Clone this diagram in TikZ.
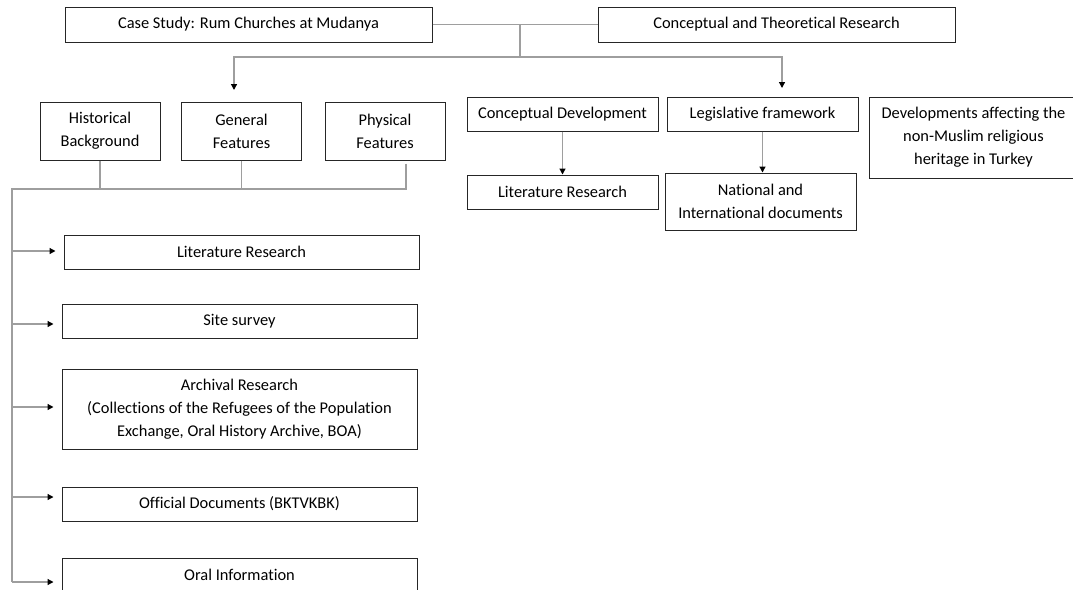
\documentclass[tikz,border=0pt]{standalone}
\usepackage{fontspec}
\setmainfont{Carlito}[Ligatures=NoCommon]
\usetikzlibrary{arrows.meta,positioning}
\tikzset{
  box/.style={draw=black!85,line width=1pt,inner sep=2pt,align=center,font=\fontsize{16.4}{23}\selectfont},
  sq/.style={minimum width=120pt,minimum height=58pt},
  wide/.style={minimum width=355pt,minimum height=34pt},
  mid/.style={minimum width=191pt,minimum height=34pt},
  wire/.style={draw=black!38,line width=1.3pt},
  pointer/.style={-{Triangle[length=6pt,width=6pt,black]}},
}
\begin{document}
\begin{tikzpicture}[x=1pt,y=-1pt]
  \useasboundingbox (0,0) rectangle (1073,589);
  % top row
  \node[box,minimum width=367pt,minimum height=35pt] (case) at (248.5,24.5) {Case Study: Rum Churches at Mudanya};
  \node[box,minimum width=357pt,minimum height=35pt] (theory) at (776.5,24.5) {Conceptual and Theoretical Research};
  % case study side
  \node[box,sq] (hist) at (100,131) {Historical\\Background};
  \node[box,sq] (gen) at (241.5,131) {General\\Features};
  \node[box,sq] (phys) at (385,131) {Physical\\Features};
  \node[box,wide] (lit) at (241.5,252) {Literature Research};
  \node[box,wide] (site) at (239.5,321) {Site survey};
  \node[box,wide,minimum height=80pt] (arch) at (239.5,409) {Archival Research\\(Collections of the Refugees of the Population\\Exchange, Oral History Archive, BOA)};
  \node[box,wide] (off) at (239.5,504) {Official Documents (BKTVKBK)};
  \node[box,wide] (oral) at (239.5,575) {Oral Information};
  % theory side
  \node[box,mid] (concdev) at (562.5,114) {Conceptual Development};
  \node[box,mid] (legis) at (762.5,114) {Legislative framework};
  \node[box,minimum width=209pt,minimum height=81pt] (devel) at (973.5,137.5) {Developments affecting the\\non-Muslim religious\\heritage in Turkey};
  \node[box,mid] (litr) at (562.5,192) {Literature Research};
  \node[box,mid,minimum height=57pt] (natint) at (760.5,201.5) {National and\\International documents};
  % connectors
  \coordinate (split) at (520,57);
  \coordinate (togen) at (234,90);
  \coordinate (tolegis) at (782,88);
  \coordinate (bus) at (12,189);
  \coordinate (busend) at (12,582);
  \draw[wire] (case) -- (theory);
  \draw[wire] (split |- case.east) -- (split);
  \draw[wire,pointer] (split) -| (togen);
  \draw[wire,pointer] (split) -| (tolegis);
  \draw[wire] (hist.south) -- (hist.south |- bus);
  \draw[wire] (gen.south) -- (gen.south |- bus);
  \draw[wire] ([xshift=21pt,yshift=-3pt]phys.south) |- (bus) -- (busend);
  \foreach \n/\y in {lit/251,site/324,arch/407,off/497,oral/582}
    \draw[wire,pointer,shorten >=8pt] (bus |- 0,\y) -- (\n.west |- 0,\y);
  \draw[wire,pointer] (concdev) -- (litr);
  \draw[wire,pointer] (legis.south) -- (legis.south |- natint.north);
\end{tikzpicture}
\end{document}
